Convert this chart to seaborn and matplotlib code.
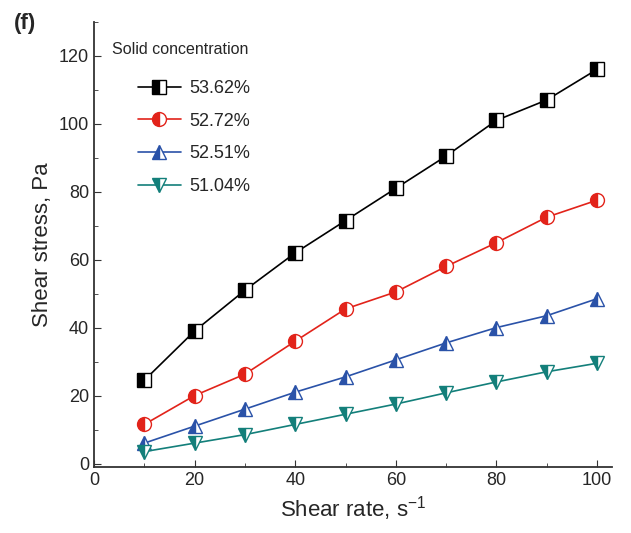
import matplotlib
matplotlib.use("Agg")
import matplotlib.pyplot as plt
import pandas as pd
import seaborn as sns
from matplotlib.ticker import MultipleLocator

shear_rate = [10, 20, 30, 40, 50, 60, 70, 80, 90, 100]
stress_5362 = [24.5, 39, 51, 62, 71.5, 81, 90.5, 101, 107, 116]
stress_5272 = [11.5, 20, 26.3, 36, 45.5, 50.5, 58, 65, 72.5, 77.5]
stress_5251 = [6, 11, 16, 21, 25.5, 30.5, 35.5, 40, 43.5, 48.5]
stress_5104 = [3.5, 6, 8.5, 11.5, 14.5, 17.5, 20.8, 24, 27, 29.5]

labels = ["53.62%", "52.72%", "52.51%", "51.04%"]
colors = ["#000000", "#e2231a", "#2a52a8", "#137f7a"]
markers = ["s", "o", "^", "v"]

sns.set_style("ticks")
plt.rcParams["font.family"] = ["Liberation Sans", "DejaVu Sans"]

fig = plt.figure(figsize=(6.31, 5.33), dpi=100)
ax = fig.add_axes([0.149, 0.124, 0.821, 0.835])

series = [stress_5362, stress_5272, stress_5251, stress_5104]
for ys, lab, c, m in zip(series, labels, colors, markers):
    df = pd.DataFrame({"rate": shear_rate, "stress": ys})
    sns.lineplot(
        data=df, x="rate", y="stress", ax=ax, color=c, marker=m,
        markersize=10, linewidth=1.2, fillstyle="left",
        markerfacecoloralt="white", markeredgecolor=c, markeredgewidth=1.0,
        label=lab, legend=False,
    )

ax.set_xlim(0, 103)
ax.set_ylim(-1, 130)
ax.xaxis.set_major_locator(MultipleLocator(20))
ax.xaxis.set_minor_locator(MultipleLocator(10))
ax.yaxis.set_minor_locator(MultipleLocator(10))
ax.set_yticks([0, 20, 40, 60, 80, 100, 120])
ax.tick_params(which="both", direction="in", labelsize=13, color="#333333")
ax.tick_params(which="major", length=5)
ax.tick_params(which="minor", length=3)
for s in ["top", "right"]:
    ax.spines[s].set_visible(False)
for s in ["left", "bottom"]:
    ax.spines[s].set_linewidth(1.3)
    ax.spines[s].set_color("#333333")

ax.set_xlabel("Shear rate, s$^{\\mathregular{-1}}$", fontsize=16)
ax.set_ylabel("Shear stress, Pa", fontsize=16)

ax.text(0.035, 0.955, "Solid concentration", transform=ax.transAxes,
        fontsize=11.5, va="top", ha="left")
handles = ax.get_lines()[:4]
ax.legend(handles, labels, loc="upper left", bbox_to_anchor=(0.07, 0.885),
          frameon=False, fontsize=13, handlelength=2.4, handletextpad=0.45,
          labelspacing=0.86, borderaxespad=0)

fig.text(0.022, 0.975, "(f)", fontsize=16, fontweight="bold", va="top", ha="left")

fig.savefig("out.png", dpi=100)
